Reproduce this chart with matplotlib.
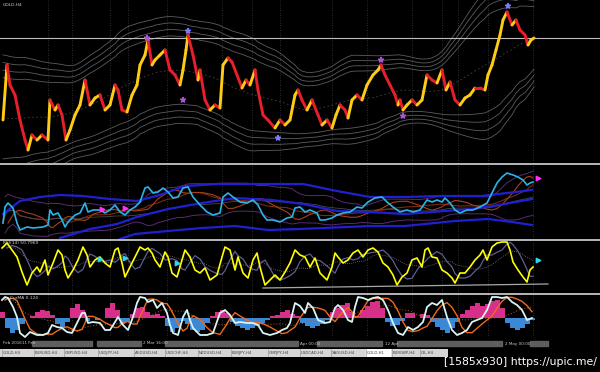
import numpy as np
import pandas as pd
import matplotlib
matplotlib.use('Agg')
import matplotlib.pyplot as plt
from matplotlib.collections import LineCollection
from matplotlib.lines import Line2D
from matplotlib.patches import Rectangle

# ---- main window: GOLD H4 closes (bar = position on time axis) ----
bars = [3, 7, 10, 15, 20, 25, 28, 32, 37, 42, 48, 50, 55, 58, 62, 66, 70, 75, 80, 85,
        90, 95, 100, 105, 110, 115, 118, 122, 127, 132, 137, 140, 145, 148, 152, 155, 160, 165, 170, 175,
        180, 183, 186, 188, 193, 198, 200, 205, 210, 215, 220, 223, 228, 232, 237, 242, 246, 250, 255, 258,
        263, 268, 275, 280, 285, 290, 295, 298, 302, 307, 312, 318, 322, 327, 332, 336, 340, 345, 348, 352,
        357, 362, 367, 373, 378, 381, 385, 390, 395, 398, 400, 403, 407, 412, 417, 422, 427, 432, 437, 442,
        446, 450, 455, 460, 465, 470, 475, 480, 485, 488, 492, 496, 500, 503, 507, 512, 516, 520, 525, 528,
        531, 534]
close = [1180, 1235, 1215, 1205, 1180, 1160, 1150, 1165, 1160, 1165, 1160, 1200, 1190, 1195, 1185, 1160, 1170, 1185, 1195, 1220,
         1195, 1202, 1205, 1190, 1195, 1215, 1210, 1190, 1188, 1205, 1215, 1235, 1245, 1260, 1235, 1240, 1245, 1250, 1230, 1225,
         1215, 1230, 1250, 1265, 1245, 1220, 1230, 1200, 1190, 1195, 1192, 1235, 1242, 1238, 1225, 1212, 1220, 1215, 1230, 1210,
         1185, 1180, 1172, 1180, 1175, 1180, 1205, 1210, 1200, 1190, 1200, 1185, 1175, 1180, 1172, 1185, 1195, 1190, 1182, 1200,
         1205, 1200, 1215, 1225, 1230, 1235, 1225, 1215, 1205, 1195, 1200, 1190, 1195, 1200, 1195, 1200, 1225, 1220, 1217, 1230,
         1210, 1218, 1200, 1195, 1202, 1205, 1212, 1212, 1210, 1225, 1235, 1250, 1265, 1280, 1288, 1275, 1280, 1270, 1265, 1255,
         1260, 1262]
mark_bars = [147, 183, 188, 278, 381, 403, 508]
mark_price = [1262, 1200, 1269, 1162, 1240, 1184, 1294]
mark_color = ['#b050d8', '#b050d8', '#7b7bff', '#7b7bff', '#b050d8', '#b050d8', '#7b7bff']
price_level = 1262

# ---- window 2 ----
c2_bars = [3, 5, 8, 13, 17, 20, 27, 33, 43, 48, 50, 53, 58, 62, 65, 68, 72, 75, 80, 85,
           88, 93, 100, 105, 110, 115, 120, 125, 130, 135, 140, 145, 148, 153, 158, 163, 168, 173, 178, 183,
           188, 193, 200, 207, 213, 220, 223, 228, 233, 240, 247, 253, 258, 263, 267, 273, 280, 287, 292, 295,
           300, 305, 310, 317, 320, 325, 332, 337, 343, 350, 357, 362, 368, 375, 382, 387, 393, 400, 407, 413,
           420, 427, 432, 437, 442, 445, 450, 455, 460, 467, 473, 480, 487, 492, 497, 502, 507, 513, 518, 523,
           527, 530, 533]
c2_vals = [17, 33, 37, 32, 17, 10, 13, 12, 13, 15, 30, 25, 27, 20, 13, 18, 22, 25, 27, 37,
           28, 30, 30, 27, 30, 35, 28, 25, 30, 33, 38, 52, 53, 47, 48, 52, 48, 42, 43, 52,
           53, 43, 35, 28, 25, 27, 43, 47, 43, 38, 37, 40, 35, 25, 20, 20, 18, 22, 23, 32,
           33, 28, 30, 27, 20, 20, 22, 25, 27, 28, 33, 32, 38, 42, 43, 38, 33, 28, 30, 28,
           30, 40, 38, 40, 38, 42, 37, 30, 27, 30, 30, 33, 37, 47, 57, 63, 67, 65, 63, 60,
           55, 57, 58]
top_bars = [3, 20, 40, 60, 83, 110, 137, 160, 185, 218, 268, 303, 337, 370, 405, 438, 482, 532]
top_vals = [26, 39, 43, 45, 44, 41, 39, 45, 54, 56, 56, 56, 49, 43, 43, 44, 44, 50]
mid_bars = [60, 90, 117, 137, 168, 202, 235, 272, 303, 337, 370, 405, 472, 505, 532]
mid_vals = [2, 11, 16, 23, 31, 37, 42, 40, 36, 29, 28, 26, 31, 36, 41]
bot_bars = [120, 135, 168, 202, 235, 268, 300, 370, 405, 455, 488, 512, 532]
bot_vals = [1, 6, 9, 12, 14, 10, 11, 14, 14, 19, 21, 18, 15]
arrow2_bars = [102, 125, 538]
arrow2_vals = [31, 32, 62]

# ---- window 3: RSI ----
rsi_bars = [2, 7, 12, 17, 22, 27, 32, 37, 40, 45, 48, 53, 58, 62, 65, 68, 73, 78, 83, 87,
            90, 95, 100, 105, 110, 115, 118, 122, 125, 130, 135, 140, 145, 148, 152, 155, 160, 165, 168, 172,
            177, 182, 185, 190, 195, 200, 205, 210, 217, 222, 225, 230, 235, 238, 243, 248, 253, 257, 260, 265,
            270, 275, 280, 285, 290, 295, 300, 305, 310, 315, 320, 327, 332, 335, 338, 343, 348, 353, 358, 363,
            368, 373, 378, 383, 388, 393, 397, 402, 407, 412, 417, 422, 425, 428, 432, 437, 442, 447, 452, 455,
            460, 465, 470, 475, 480, 483, 487, 492, 497, 502, 507, 510, 513, 518, 523, 527, 530, 533]
rsi_vals = [88, 98, 84, 70, 40, 14, 38, 50, 40, 64, 34, 58, 84, 74, 44, 28, 44, 64, 90, 74,
            50, 64, 70, 58, 50, 84, 88, 58, 30, 50, 70, 90, 84, 88, 78, 64, 50, 80, 70, 38,
            30, 64, 84, 70, 44, 38, 48, 24, 34, 70, 90, 84, 44, 70, 38, 28, 64, 78, 50, 14,
            24, 34, 24, 40, 58, 84, 74, 70, 50, 68, 38, 24, 50, 78, 70, 58, 64, 78, 84, 70,
            84, 88, 80, 58, 50, 34, 14, 30, 38, 64, 68, 50, 84, 88, 70, 68, 44, 38, 28, 18,
            38, 38, 50, 64, 74, 84, 64, 90, 98, 100, 100, 84, 60, 44, 30, 20, 44, 50]
trend_bars = [263, 548]
trend_vals = [8, 16]
arrow3_bars = [100, 125, 177, 538]
arrow3_vals = [66, 68, 58, 64]

# ---- window 4: oscillator + histogram ----
osc_bars = [2, 5, 8, 13, 17, 20, 25, 30, 37, 43, 48, 52, 57, 62, 67, 72, 77, 82, 85, 88,
            93, 100, 105, 110, 115, 118, 123, 128, 133, 137, 140, 145, 148, 153, 157, 162, 167, 170, 173, 178,
            183, 187, 190, 193, 200, 207, 213, 220, 225, 230, 235, 240, 247, 253, 258, 263, 270, 277, 282, 287,
            290, 295, 300, 305, 308, 313, 318, 325, 330, 335, 338, 343, 348, 352, 355, 358, 363, 368, 373, 378,
            383, 388, 393, 398, 403, 408, 413, 418, 423, 427, 432, 437, 442, 447, 452, 457, 462, 467, 472, 477,
            482, 487, 492, 497, 502, 507, 512, 517, 522, 527, 532]
osc_vals = [18, 21, 20, 11, 1, -15, -19, -14, -17, -17, -15, -7, -9, -10, -14, -15, -5, 5, 5, -5,
            -4, -5, -12, -12, -4, 1, -7, -12, 1, 15, 21, 20, 16, 18, 10, 15, 5, -7, -15, -17,
            1, 8, -2, -10, -17, -17, -15, 5, 8, 3, -5, -4, -5, -5, -7, -15, -17, -15, -12, -10,
            -5, 15, 12, 5, 15, 10, -2, -5, -4, 10, 13, 8, -2, -4, 11, 21, 20, 18, 20, 21,
            18, 8, -5, -15, -17, -9, -12, -9, -4, 11, 15, 13, 18, 1, -12, -17, -15, -12, -4, -2,
            0, 8, 21, 21, 20, 21, 16, 13, 8, -2, 0]
hist_bars = np.arange(2, 533, 5)
hist_vals = [6, -10, -15, -12, -6, 0, 2, 6, 8, 7, 3, -6, -10, -4, 10, 14, 8, -3, 0, -2,
             0, 10, 15, 8, -6, -4, 4, 10, 11, 6, 3, 4, 2, -8, -14, -10, -3, -6, -12, -14,
             -12, -5, 2, 6, 8, 5, -4, -8, -10, -12, -10, -8, -5, -2, 2, 3, 6, 8, 4, 2,
             -5, -8, -10, -8, -6, -2, 6, 10, 13, 15, 6, 2, 8, 12, 16, 17, 10, -4, -8, -7,
             -3, 5, 5, 0, 4, 3, -4, -9, -12, -15, -10, -4, 4, 8, 12, 15, 12, 14, 17, 18,
             10, -5, -10, -12, -10, -6, -2]

grid_bars = [48, 72, 110, 128, 167, 222, 252, 280, 332, 367, 412, 442, 458, 488, 533]
time_labels = ['Feb 2016', '11 Feb', '2 Mar 16:00', 'Apr 00:00', '12 Apr', '2 May 00:00']
time_bars = [3, 22, 143, 300, 385, 505]
time_boxes = [(32, 92), (97, 141), (165, 298), (317, 382), (397, 502), (530, 548)]
tab_labels = ['GOLD,H4', 'EURUSD,H4', 'GBPUSD,H4', 'USDJPY,H4', 'AUDUSD,H4', 'USDCHF,H4',
              'NZDUSD,H4', 'EURJPY,H4', 'GBPJPY,H4', 'USDCAD,H4', 'XAGUSD,H4', 'GOLD,H1', 'EURGBP,H4', 'OIL,H4']
tab_bars = [2, 34, 64, 98, 134, 165, 198, 231, 268, 300, 331, 366, 392, 420]

W, H = 600, 372
fig = plt.figure(figsize=(6, 3.72), dpi=100, facecolor='black')


def panel(top, bottom, ylim):
    ax = fig.add_axes([0, 1 - bottom / H, 1, (bottom - top) / H])
    ax.set_xlim(0, 600)
    ax.set_ylim(*ylim)
    ax.axis('off')
    for g in grid_bars:
        ax.axvline(g, color='#3c3c3c', lw=0.6, ls=(0, (1, 2)), zorder=0)
    return ax


# main window
ax1 = panel(0, 163, (1137, 1300))
s = pd.Series(close, dtype=float)
m = s.rolling(21, center=True, min_periods=5).mean().rolling(9, center=True, min_periods=1).mean()
sd = s.rolling(21, center=True, min_periods=5).std().rolling(11, center=True, min_periods=1).mean()
for k in [1.6, 1.9, 2.2, 2.5]:
    ax1.plot(bars, m + k * sd, color='#5c5c5c', lw=0.6)
    ax1.plot(bars, m - k * sd, color='#5c5c5c', lw=0.6)
ax1.plot(bars, m, color='#444444', lw=0.6, ls=(0, (2, 3)))
ax1.axhline(price_level, color='#bdbdbd', lw=0.8)
pts = np.column_stack([bars, close])
segs = np.stack([pts[:-1], pts[1:]], axis=1)
cols = ['#ffcc14' if b > a else '#e81e2a' for a, b in zip(close[:-1], close[1:])]
ax1.add_collection(LineCollection(segs, colors=cols, linewidths=2.1, capstyle='round'))
ax1.scatter(mark_bars, mark_price, c=mark_color, marker='*', s=14, zorder=5)
ax1.text(3, 1295, 'GOLD,H4', color='#d0d0d0', fontsize=3.2, va='center')

# window 2
ax2 = panel(165.5, 239, (1, 74.5))
c2 = pd.Series(c2_vals, dtype=float)
ax2.plot(c2_bars, c2.rolling(20, min_periods=1).mean() + 1.6 * c2.rolling(20, min_periods=2).std(),
         color='#5a2a70', lw=0.7)
ax2.plot(c2_bars, c2.rolling(20, min_periods=1).mean() - 1.6 * c2.rolling(20, min_periods=2).std(),
         color='#5a2a70', lw=0.7)
ax2.plot(c2_bars, c2.rolling(12, min_periods=1).mean(), color='#7a2a10', lw=0.8)
ax2.plot(c2_bars, c2.rolling(5, min_periods=1).mean().shift(2), color='#a8401a', lw=0.8)
ax2.plot(c2_bars, c2.rolling(30, min_periods=1).mean(), color='#484848', lw=0.6)
ax2.plot(top_bars, top_vals, color='#2020d0', lw=1.6)
ax2.plot(mid_bars, mid_vals, color='#2020d0', lw=1.6)
ax2.plot(bot_bars, bot_vals, color='#2020d0', lw=1.6)
ax2.plot(c2_bars, c2_vals, color='#2cb4ea', lw=1.2)
ax2.scatter(arrow2_bars, arrow2_vals, color='#ff30ff', marker='>', s=10, zorder=5)

# window 3
ax3 = panel(240, 293, (-2, 104))
r = pd.Series(rsi_vals, dtype=float)
ax3.plot(rsi_bars, r.rolling(10, min_periods=1).mean(), color='#7a7a7a', lw=0.6, ls=(0, (1, 1.5)))
ax3.plot(rsi_bars, r.rolling(3, min_periods=1).mean().shift(1), color='#5e5e90', lw=0.9)
ax3.plot(trend_bars, trend_vals, color='#a8a8a8', lw=0.9)
ax3.plot(rsi_bars, rsi_vals, color='#ffff00', lw=1.2)
ax3.scatter(arrow3_bars, arrow3_vals, color='#30d8ea', marker='>', s=10, zorder=5)
ax3.text(3, 99, 'RSI(14) 50.7969', color='#d0d0d0', fontsize=3.2, va='center')

# window 4
ax4 = panel(295, 338, (-20, 23))
ax4.bar(hist_bars, hist_vals, width=5, color=['#d8308a' if v > 0 else '#3a88d6' for v in hist_vals])
o = pd.Series(osc_vals, dtype=float)
ax4.plot(osc_bars, o.rolling(12, min_periods=1).mean(), color='#c05a20', lw=0.7, ls=(0, (1, 2)))
ax4.plot(osc_bars, o.rolling(3, min_periods=1).mean().shift(1), color='#f06a1a', lw=1.0)
ax4.plot(osc_bars, osc_vals, color='#d8f4f4', lw=1.3)
ax4.text(10, 20, 'CurMA 0.124', color='#d0d0d0', fontsize=3.2, va='center')

# panel separators
for y in [164.5, 239.5, 294]:
    fig.add_artist(Line2D([0, 1], [1 - y / H] * 2, transform=fig.transFigure, color='#b8b8b8', lw=1.4))

# time axis strip
ax5 = fig.add_axes([0, 1 - 348 / H, 1, 9 / H])
ax5.set_xlim(0, 600)
ax5.set_ylim(0, 1)
ax5.axis('off')
for a, b in time_boxes:
    ax5.add_patch(Rectangle((a, 0.2), b - a, 0.6, color='#5e5e5e'))
for lab, x in zip(time_labels, time_bars):
    ax5.text(x, 0.5, lab, color='#c8c8c8', fontsize=3, va='center')

# tab strip
ax6 = fig.add_axes([0, 1 - 357 / H, 448 / W, 8 / H])
ax6.set_xlim(0, 448)
ax6.set_ylim(0, 1)
ax6.axis('off')
ax6.add_patch(Rectangle((0, 0), 448, 1, color='#d6d6d6'))
ax6.add_patch(Rectangle((366, 0), 24, 1, color='#ffffff'))
for lab, x in zip(tab_labels, tab_bars):
    ax6.text(x + 1, 0.5, lab, color='#404040', fontsize=2.8, va='center')
    ax6.axvline(x, color='#9a9a9a', lw=0.5)

fig.text(597 / W, 1 - 362 / H, '[1585x930] https://upic.me/', color='white', ha='right', va='center',
         fontsize=7.8, family='DejaVu Sans')

fig.savefig('out.png', dpi=100, facecolor='black')
